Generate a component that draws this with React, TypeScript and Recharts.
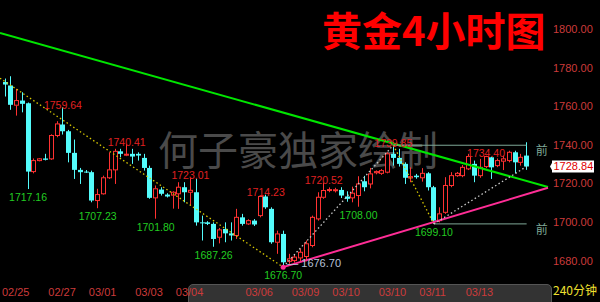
import { Bar, ComposedChart, ReferenceDot, ReferenceLine, XAxis, YAxis } from "recharts";

// 4-hour gold bars, oldest first
const opens = [
  1772.6, 1770.8, 1760.6, 1763.0, 1761.6, 1726.2, 1731.9, 1733.0, 1732.8, 1744.9,
  1750.6, 1747.1, 1735.9, 1727.1, 1726.2, 1725.9, 1711.2, 1714.7, 1723.0, 1727.1,
  1736.7, 1735.0, 1735.4, 1735.4, 1733.3, 1728.1, 1712.6, 1716.9, 1714.3, 1714.0,
  1714.7, 1718.1, 1715.5, 1715.5, 1699.9, 1699.9, 1699.1, 1692.2, 1696.5, 1694.2,
  1693.1, 1702.5, 1699.1, 1700.8, 1703.4, 1713.3, 1706.9, 1689.6, 1693.9, 1679.7,
  1680.1, 1681.5, 1682.2, 1687.9, 1701.7, 1712.9, 1716.8, 1716.6, 1716.7, 1713.3,
  1712.6, 1713.8, 1721.2, 1719.8, 1725.6, 1725.3, 1725.9, 1735.4, 1733.3, 1730.2,
  1722.9, 1724.1, 1723.0, 1725.3, 1718.1, 1700.8, 1705.1, 1719.0, 1724.1, 1724.1,
  1727.6, 1730.2, 1724.1, 1728.8, 1733.6, 1729.3, 1731.6, 1731.9, 1736.2, 1731.0,
  1734.5,
];
const highs = [
  1774.4, 1775.6, 1769.1, 1767.3, 1762.0, 1733.0, 1733.2, 1735.4, 1745.5, 1752.3,
  1759.64, 1747.8, 1742.8, 1728.1, 1727.0, 1726.7, 1717.3, 1724.1, 1736.2, 1738.0,
  1738.0, 1740.41, 1738.0, 1736.2, 1735.4, 1729.3, 1719.0, 1718.1, 1715.0, 1716.0,
  1720.7, 1720.7, 1723.01, 1722.4, 1703.4, 1700.5, 1699.9, 1697.0, 1699.9, 1699.9,
  1706.9, 1704.3, 1701.5, 1701.6, 1713.8, 1714.23, 1707.7, 1695.6, 1695.6, 1683.6,
  1683.0, 1686.3, 1690.5, 1703.4, 1715.5, 1720.52, 1718.0, 1717.8, 1718.1, 1716.0,
  1718.4, 1723.8, 1724.0, 1728.1, 1726.8, 1727.5, 1736.2, 1739.85, 1738.0, 1731.0,
  1728.4, 1725.0, 1728.0, 1725.9, 1718.8, 1707.7, 1723.3, 1725.9, 1726.0, 1729.6,
  1735.4, 1731.9, 1732.8, 1734.4, 1734.0, 1733.0, 1734.5, 1737.0, 1737.0, 1735.4,
  1741.4,
];
const lows = [
  1765.1, 1758.2, 1755.2, 1756.9, 1717.16, 1725.3, 1731.5, 1732.0, 1732.3, 1744.0,
  1745.4, 1731.0, 1722.4, 1719.8, 1725.5, 1710.3, 1707.23, 1714.3, 1722.4, 1719.8,
  1733.6, 1734.2, 1730.2, 1731.9, 1726.7, 1712.1, 1701.8, 1713.8, 1712.8, 1707.0,
  1706.9, 1710.3, 1708.6, 1698.2, 1690.5, 1698.5, 1687.26, 1689.0, 1689.6, 1690.5,
  1691.3, 1698.2, 1698.6, 1698.0, 1702.5, 1706.9, 1688.8, 1683.6, 1676.7, 1678.4,
  1679.0, 1679.7, 1679.7, 1687.0, 1700.8, 1712.1, 1715.5, 1715.4, 1712.5, 1710.6,
  1710.3, 1708.0, 1716.0, 1717.5, 1724.8, 1724.5, 1725.3, 1729.3, 1728.8, 1719.8,
  1720.7, 1722.5, 1721.0, 1716.4, 1699.1, 1699.9, 1704.3, 1718.1, 1723.5, 1723.3,
  1727.0, 1720.7, 1723.0, 1728.0, 1722.4, 1728.5, 1727.0, 1731.0, 1725.3, 1729.3,
  1727.1,
];
const closes = [
  1771.3, 1760.8, 1763.0, 1761.3, 1726.2, 1731.9, 1732.8, 1732.3, 1744.9, 1750.9,
  1747.1, 1735.9, 1727.1, 1725.9, 1725.9, 1711.2, 1714.3, 1723.0, 1727.1, 1736.7,
  1735.4, 1735.2, 1734.0, 1734.5, 1728.1, 1712.6, 1717.3, 1714.7, 1713.3, 1715.5,
  1718.1, 1715.5, 1716.5, 1699.9, 1699.4, 1699.1, 1691.3, 1696.0, 1694.2, 1693.1,
  1702.5, 1699.1, 1700.8, 1698.8, 1713.3, 1707.7, 1689.6, 1693.9, 1679.2, 1681.0,
  1681.9, 1684.4, 1688.8, 1702.5, 1712.9, 1716.4, 1716.9, 1716.8, 1713.8, 1712.1,
  1715.0, 1719.8, 1718.1, 1725.0, 1726.2, 1726.7, 1735.4, 1733.3, 1730.2, 1723.0,
  1723.6, 1723.3, 1725.3, 1718.1, 1700.8, 1704.3, 1719.0, 1724.1, 1725.3, 1728.4,
  1734.0, 1724.1, 1728.4, 1734.0, 1728.4, 1731.9, 1732.8, 1736.2, 1731.0, 1733.6,
  1728.84,
];

const dateTicks = [0, 8, 15, 23, 30, 42, 50, 57, 65, 72, 80];
const dateLabels = ["02/25", "02/27", "03/01", "03/03", "03/04", "03/06", "03/09", "03/10", "03/10", "03/11", "03/13"];
const priceTicks = [1680, 1700, 1720, 1740, 1760, 1780, 1800];

// bars whose high / low gets a price tag
const peakBars = [10, 21, 32, 45, 55, 67, 83];
const troughBars = [4, 16, 26, 36, 48, 61, 74];

// zigzag pivots: bar index and price
const zigBars = [-0.845, 48, 67, 74, 90];
const zigPrices = [1774.6, lows[48], highs[67], lows[74], closes[90]];

// hand-drawn trend lines, bar index -> price
const trendBars = [-0.845, 93.685];
const resistance = [1798.0, 1718.2];
const supportBars = [48, 93.685];
const support = [lows[48], 1717.8];

const X_DOMAIN = [-0.845, 93.685];
const Y_DOMAIN = [1669, 1815.1];

const UP = "#ff3232";
const DOWN = "#54fcfc";
const AXIS_RED = "#cc3b3b";
const LABEL_FONT = "'Liberation Sans', Arial, sans-serif";
const CJK_FONT = "'Noto Sans CJK SC', sans-serif";
const MARKER = "#7fa897";

const data = opens.map((o, i) => ({
  k: i,
  o,
  h: highs[i],
  l: lows[i],
  c: closes[i],
  range: [lows[i], highs[i]],
}));

function Candle(props: any) {
  const { x, y, width, height, payload } = props;
  if (!payload || height == null) return null;
  const { o, h, l, c } = payload;
  const yTop = Math.min(y, y + height);
  const yBot = Math.max(y, y + height);
  const span = h - l || 1;
  const py = (v: number) => yTop + ((h - v) / span) * (yBot - yTop);
  const cx = Math.round(x + width / 2) + 0.5;
  const bodyTop = py(Math.max(o, c));
  const bodyH = Math.max(py(Math.min(o, c)) - bodyTop, 1);
  if (c >= o) {
    return (
      <g>
        <line x1={cx} x2={cx} y1={yTop} y2={bodyTop} stroke={UP} />
        <line x1={cx} x2={cx} y1={bodyTop + bodyH} y2={yBot} stroke={UP} />
        <rect x={cx - 2} y={bodyTop} width={4} height={bodyH} fill="#000" stroke={UP} />
      </g>
    );
  }
  return (
    <g>
      <line x1={cx} x2={cx} y1={yTop} y2={yBot} stroke={DOWN} />
      <rect x={cx - 2.5} y={bodyTop} width={5} height={bodyH} fill={DOWN} />
    </g>
  );
}

function DateTick(props: any) {
  const { x, y, payload } = props;
  const label = dateLabels[dateTicks.indexOf(payload.value)];
  return (
    <text x={x - 3} y={y + 12} fill={AXIS_RED} fontSize={11} fontFamily={LABEL_FONT} textAnchor="start">
      {label}
    </text>
  );
}

function LastPrice(props: any) {
  const { viewBox } = props;
  const right = viewBox.x + viewBox.width;
  const cy = viewBox.y;
  return (
    <g>
      <polygon points={`${right + 2},${cy} ${right + 5},${cy - 5.5} ${right + 5},${cy + 5.5}`} fill="#fff" />
      <rect x={right + 4} y={cy - 6} width={42} height={12} fill="#fff" />
      <text x={right + 5.5} y={cy + 4} fill="#e00000" fontSize={11} fontFamily={LABEL_FONT}>
        {closes[closes.length - 1].toFixed(2)}
      </text>
    </g>
  );
}

function markerLabel(props: any) {
  const { viewBox } = props;
  return (
    <text x={viewBox.x + viewBox.width + 9} y={viewBox.y + 10} fill={MARKER} fontSize={12} fontFamily={CJK_FONT}>
      前
    </text>
  );
}

export default function App() {
  const last = closes.length - 1;
  return (
    <div style={{ position: "absolute", left: 0, top: 0, width: 600, height: 302, background: "#000", overflow: "hidden" }}>
      <div
        style={{
          position: "absolute",
          left: 158,
          top: 124,
          fontSize: 40,
          lineHeight: "48px",
          color: "#4a4a4a",
          fontFamily: CJK_FONT,
          whiteSpace: "nowrap",
        }}
      >
        何子豪独家绘制
      </div>
      <div
        style={{
          position: "absolute",
          left: 188,
          top: 284,
          width: 362,
          height: 22,
          background: "#333",
          border: "1px solid #555",
          borderRadius: 5,
        }}
      />
      <div style={{ position: "absolute", left: 0, top: 0 }}>
        <ComposedChart width={600} height={302} data={data} margin={{ top: 0, right: 0, bottom: 0, left: 0 }}>
          <XAxis
            dataKey="k"
            type="number"
            domain={X_DOMAIN}
            allowDataOverflow
            ticks={dateTicks}
            interval={0}
            tick={<DateTick />}
            tickLine={false}
            axisLine={false}
            tickSize={0}
            height={20}
          />
          <YAxis
            orientation="right"
            domain={Y_DOMAIN}
            allowDataOverflow
            ticks={priceTicks}
            tickFormatter={(v: number) => v.toFixed(2)}
            tick={{ fill: AXIS_RED, fontSize: 11, fontFamily: LABEL_FONT }}
            tickLine={false}
            axisLine={false}
            tickSize={0}
            tickMargin={5}
            width={52}
          />

          <ReferenceLine
            segment={[{ x: trendBars[0], y: resistance[0] }, { x: trendBars[1], y: resistance[1] }]}
            stroke="#00e600"
            strokeWidth={2}
            ifOverflow="visible"
          />
          <ReferenceLine
            segment={[{ x: supportBars[0], y: support[0] }, { x: supportBars[1], y: support[1] }]}
            stroke="#ff2d96"
            strokeWidth={2}
            ifOverflow="visible"
          />
          <ReferenceLine
            segment={[{ x: peakBars[5], y: highs[peakBars[5]] }, { x: last, y: highs[peakBars[5]] }]}
            stroke={MARKER}
            ifOverflow="visible"
            label={markerLabel}
          />
          <ReferenceLine
            segment={[{ x: troughBars[6], y: lows[troughBars[6]] }, { x: last, y: lows[troughBars[6]] }]}
            stroke={MARKER}
            ifOverflow="visible"
            label={markerLabel}
          />

          {zigBars.slice(1).map((b, i) => (
            <ReferenceLine
              key={`zz${i}`}
              segment={[{ x: zigBars[i], y: zigPrices[i] }, { x: b, y: zigPrices[i + 1] }]}
              stroke={zigPrices[i + 1] < zigPrices[i] ? "#d8c800" : "#c8c8c8"}
              strokeWidth={1.3}
              strokeDasharray="1.5 2.5"
              ifOverflow="visible"
            />
          ))}

          <Bar dataKey="range" barSize={5} shape={<Candle />} isAnimationActive={false} />

          <ReferenceDot
            x={troughBars[4]}
            y={lows[troughBars[4]]}
            r={2.5}
            fill="#ff2d96"
            stroke="none"
            ifOverflow="visible"
          />

          {peakBars.map((b) => (
            <ReferenceDot
              key={`p${b}`}
              x={b}
              y={highs[b]}
              ifOverflow="visible"
              shape={(p: any) => (
                <text x={p.cx} y={p.cy + 1.5} textAnchor="middle" fill="#e02020" fontSize={10.5} fontFamily={LABEL_FONT}>
                  {highs[b].toFixed(2)}
                </text>
              )}
            />
          ))}
          {troughBars.map((b) => (
            <ReferenceDot
              key={`t${b}`}
              x={b}
              y={lows[b]}
              ifOverflow="visible"
              shape={(p: any) => (
                <text x={p.cx} y={p.cy + 12} textAnchor="middle" fill="#22cc22" fontSize={10.5} fontFamily={LABEL_FONT}>
                  {lows[b].toFixed(2)}
                </text>
              )}
            />
          ))}

          <ReferenceDot
            x={troughBars[4] + 0.7}
            y={lows[troughBars[4]]}
            ifOverflow="visible"
            shape={(p: any) => (
              <text x={p.cx} y={p.cy - 0.5} fill="#b8c0d8" fontSize={11} fontFamily={LABEL_FONT}>
                {"— " + lows[troughBars[4]].toFixed(2)}
              </text>
            )}
          />

          <ReferenceLine y={closes[last]} stroke="none" ifOverflow="visible" label={<LastPrice />} />
        </ComposedChart>
      </div>
      <div
        style={{
          position: "absolute",
          left: 322,
          top: 3,
          fontSize: 40,
          lineHeight: "52px",
          fontWeight: 700,
          color: "#ff0000",
          fontFamily: CJK_FONT,
          whiteSpace: "nowrap",
        }}
      >
        黄金4小时图
      </div>
      <div
        style={{
          position: "absolute",
          left: 553,
          top: 281,
          fontSize: 12,
          color: "#f0e030",
          fontFamily: CJK_FONT,
          whiteSpace: "nowrap",
        }}
      >
        240分钟
      </div>
    </div>
  );
}
